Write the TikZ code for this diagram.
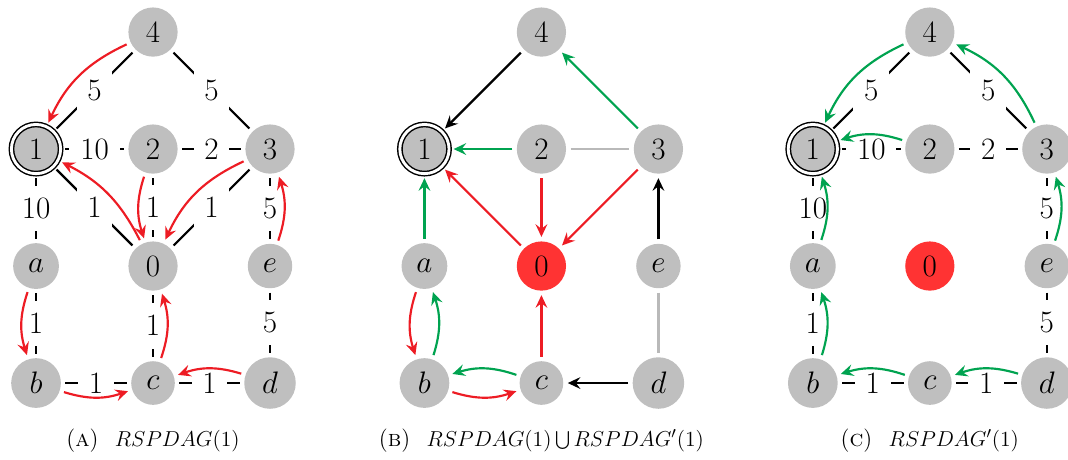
\documentclass[tikz,border=0pt]{standalone}
\usetikzlibrary{arrows.meta}

\definecolor{arcred}{RGB}{237,28,36}
\definecolor{arcgreen}{RGB}{0,163,80}

\tikzset{
  vertex/.style={circle, fill=gray!50, inner sep=4.9pt, outer sep=2.5pt, font=\LARGE},
  sink/.style={vertex, draw, line width=0.8pt, double, double distance=1.6pt},
  origin/.style={vertex, fill=red!80},
  wline/.style={line width=1.2pt},
  wlabel/.style={fill=white, inner xsep=6pt, inner ysep=7pt, font=\LARGE},
  arrowed/.style={line width=1.2pt, -{Stealth[length=7pt,width=6.5pt,inset=2.5pt]}},
  caption/.style={font=\fontsize{13}{15}\selectfont},
}

\begin{document}
\begin{tikzpicture}[x=65pt, y=65pt]
\useasboundingbox (-0.308,-0.65) rectangle (8.821,3.274);

% (a) RSPDAG(1)
\begin{scope}
  \node[vertex] (A4) at (1,3) {$4$};
  \node[sink]   (A1) at (0,2) {$1$};
  \node[vertex] (A2) at (1,2) {$2$};
  \node[vertex] (A3) at (2,2) {$3$};
  \node[vertex] (Aa) at (0,1) {$a$};
  \node[vertex] (A0) at (1,1) {$0$};
  \node[vertex] (Ae) at (2,1) {$e$};
  \node[vertex] (Ab) at (0,0) {$b$};
  \node[vertex] (Ac) at (1,0) {$c$};
  \node[vertex] (Ad) at (2,0) {$d$};

  % weighted edges
  \draw[wline] (A4) -- node[wlabel] {$5$} (A1);
  \draw[wline] (A4) -- node[wlabel] {$5$} (A3);
  \draw[wline] (A1) -- node[wlabel] {$10$} (A2);
  \draw[wline] (A2) -- node[wlabel] {$2$} (A3);
  \draw[wline] (A1) -- node[wlabel] {$1$} (A0);
  \draw[wline] (A2) -- node[wlabel] {$1$} (A0);
  \draw[wline] (A3) -- node[wlabel] {$1$} (A0);
  \draw[wline] (A1) -- node[wlabel] {$10$} (Aa);
  \draw[wline] (A3) -- node[wlabel] {$5$} (Ae);
  \draw[wline] (Aa) -- node[wlabel] {$1$} (Ab);
  \draw[wline] (A0) -- node[wlabel] {$1$} (Ac);
  \draw[wline] (Ae) -- node[wlabel] {$5$} (Ad);
  \draw[wline] (Ab) -- node[wlabel] {$1$} (Ac);
  \draw[wline] (Ac) -- node[wlabel] {$1$} (Ad);

  % shortest paths towards 1
  \draw[arrowed, arcred] (A4) to[bend right=20] (A1);
  \draw[arrowed, arcred] (A0) to[bend right=18] (A1);
  \draw[arrowed, arcred] (A2) to[bend right=18] (A0);
  \draw[arrowed, arcred] (A3) to[bend right=20] (A0);
  \draw[arrowed, arcred] (Ae) to[bend right=18] (A3);
  \draw[arrowed, arcred] (Ac) to[bend right=18] (A0);
  \draw[arrowed, arcred] (Ad) to[bend right=18] (Ac);
  \draw[arrowed, arcred] (Aa) to[bend right=18] (Ab);
  \draw[arrowed, arcred] (Ab) to[bend right=18] (Ac);

  \node[caption] (capA) at (1,-0.49) {(\textsc{a})\hspace{0.7em}$RSPDAG(1)$};
\end{scope}

% (b) union of both
\begin{scope}[shift={(3.32,0)}]
  \node[vertex] (B4) at (1,3) {$4$};
  \node[sink]   (B1) at (0,2) {$1$};
  \node[vertex] (B2) at (1,2) {$2$};
  \node[vertex] (B3) at (2,2) {$3$};
  \node[vertex] (Ba) at (0,1) {$a$};
  \node[origin] (B0) at (1,1) {$0$};
  \node[vertex] (Be) at (2,1) {$e$};
  \node[vertex] (Bb) at (0,0) {$b$};
  \node[vertex] (Bc) at (1,0) {$c$};
  \node[vertex] (Bd) at (2,0) {$d$};

  % unused links
  \draw[wline, gray!55] (B2) -- (B3);
  \draw[wline, gray!55] (Be) -- (Bd);

  % shared arcs
  \draw[arrowed] (B4) -- (B1);
  \draw[arrowed] (Be) -- (B3);
  \draw[arrowed] (Bd) -- (Bc);

  % RSPDAG(1)
  \draw[arrowed, arcred] (B0) -- (B1);
  \draw[arrowed, arcred] (B2) -- (B0);
  \draw[arrowed, arcred] (B3) -- (B0);
  \draw[arrowed, arcred] (Bc) -- (B0);
  \draw[arrowed, arcred] (Ba) to[bend right=18] (Bb);
  \draw[arrowed, arcred] (Bb) to[bend right=18] (Bc);

  % RSPDAG'(1)
  \draw[arrowed, arcgreen] (B3) -- (B4);
  \draw[arrowed, arcgreen] (B2) -- (B1);
  \draw[arrowed, arcgreen] (Ba) -- (B1);
  \draw[arrowed, arcgreen] (Bb) to[bend right=18] (Ba);
  \draw[arrowed, arcgreen] (Bc) to[bend right=18] (Bb);

  \node[caption] (capB) at (1,-0.49) {(\textsc{b})\hspace{0.7em}$RSPDAG(1)\bigcup RSPDAG'(1)$};
\end{scope}

% (c) RSPDAG'(1)
\begin{scope}[shift={(6.64,0)}]
  \node[vertex] (C4) at (1,3) {$4$};
  \node[sink]   (C1) at (0,2) {$1$};
  \node[vertex] (C2) at (1,2) {$2$};
  \node[vertex] (C3) at (2,2) {$3$};
  \node[vertex] (Ca) at (0,1) {$a$};
  \node[origin] (C0) at (1,1) {$0$};
  \node[vertex] (Ce) at (2,1) {$e$};
  \node[vertex] (Cb) at (0,0) {$b$};
  \node[vertex] (Cc) at (1,0) {$c$};
  \node[vertex] (Cd) at (2,0) {$d$};

  % weighted edges without 0
  \draw[wline] (C4) -- node[wlabel] {$5$} (C1);
  \draw[wline] (C4) -- node[wlabel] {$5$} (C3);
  \draw[wline] (C1) -- node[wlabel] {$10$} (C2);
  \draw[wline] (C2) -- node[wlabel] {$2$} (C3);
  \draw[wline] (C1) -- node[wlabel] {$10$} (Ca);
  \draw[wline] (C3) -- node[wlabel] {$5$} (Ce);
  \draw[wline] (Ca) -- node[wlabel] {$1$} (Cb);
  \draw[wline] (Ce) -- node[wlabel] {$5$} (Cd);
  \draw[wline] (Cb) -- node[wlabel] {$1$} (Cc);
  \draw[wline] (Cc) -- node[wlabel] {$1$} (Cd);

  % shortest paths towards 1
  \draw[arrowed, arcgreen] (C4) to[bend right=20] (C1);
  \draw[arrowed, arcgreen] (C3) to[bend right=20] (C4);
  \draw[arrowed, arcgreen] (C2) to[bend right=18] (C1);
  \draw[arrowed, arcgreen] (Ca) to[bend right=18] (C1);
  \draw[arrowed, arcgreen] (Ce) to[bend right=18] (C3);
  \draw[arrowed, arcgreen] (Cb) to[bend right=18] (Ca);
  \draw[arrowed, arcgreen] (Cc) to[bend right=18] (Cb);
  \draw[arrowed, arcgreen] (Cd) to[bend right=18] (Cc);

  \node[caption] (capC) at (1,-0.49) {(\textsc{c})\hspace{0.7em}$RSPDAG'(1)$};
\end{scope}

\end{tikzpicture}
\end{document}
